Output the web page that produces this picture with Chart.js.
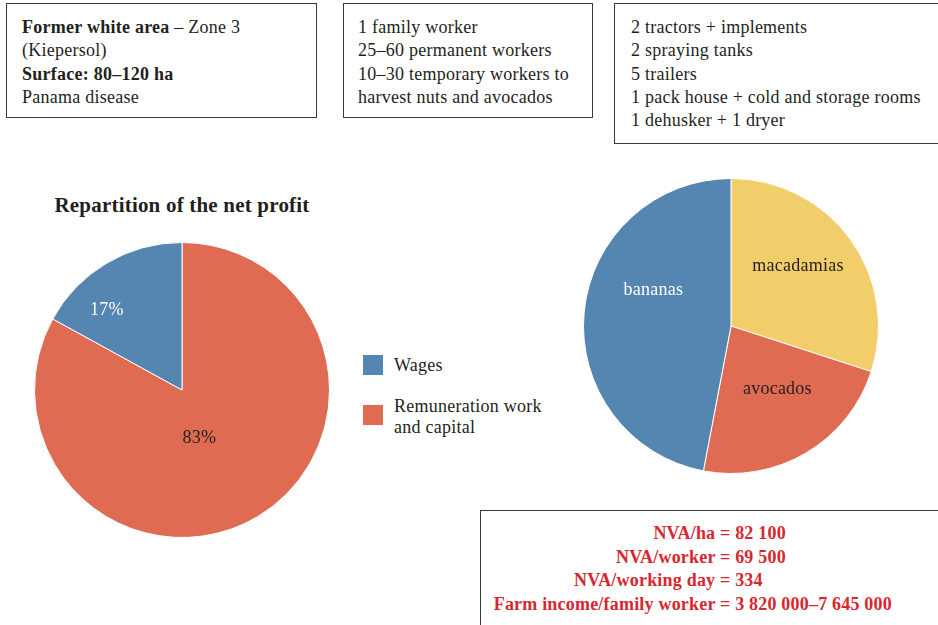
<!DOCTYPE html>
<html>
<head>
<meta charset="utf-8">
<script src="https://cdn.jsdelivr.net/npm/chart.js@4/dist/chart.umd.min.js"></script>
<style>
  html, body { margin: 0; padding: 0; background: #fff; overflow: hidden; }
  body { width: 938px; height: 625px; position: relative; font-family: "Liberation Serif", "DejaVu Serif", serif; color: #231f20; font-size: 18px; letter-spacing: 0.25px; }
  .box { position: absolute; border: 1px solid #3a3a3a; line-height: 23.3px; box-sizing: border-box; white-space: nowrap; }
  .box b { font-weight: bold; }
  #title { position: absolute; left: 0; width: 364px; top: 193px; text-align: center; font-weight: bold; font-size: 21px; letter-spacing: 0.2px; }
  canvas { position: absolute; }
  #legend { position: absolute; left: 363px; top: 355px; }
  .item { position: relative; height: 50px; }
  .sw { position: absolute; left: 0; top: 0; width: 20px; height: 20px; }
  .lt { position: absolute; left: 31px; width: 200px; line-height: 21px; white-space: nowrap; }
  #nva { position: absolute; left: 480px; top: 510px; width: 470px; height: 130px; border: 1px solid #3a3a3a; box-sizing: border-box; padding-top: 11px; color: #d8262f; font-weight: bold; line-height: 23.7px; letter-spacing: 0.2px; }
  #nva .row { display: flex; }
  #nva .l { width: 239px; flex: none; text-align: right; white-space: pre; }
  #nva .r { white-space: pre; }
</style>
</head>
<body>
<div class="box" style="left:6px;top:3px;width:311px;height:115px;padding:12px 0 0 15px;">
  <b>Former white area</b> – Zone 3<br>(Kiepersol)<br><b>Surface: 80–120 ha</b><br>Panama disease
</div>
<div class="box" style="left:343px;top:3px;width:250px;height:115px;padding:12px 0 0 14px;">
  1 family worker<br>25–60 permanent workers<br>10–30 temporary workers to<br>harvest nuts and avocados
</div>
<div class="box" style="left:614px;top:3px;width:340px;height:141px;padding:12px 0 0 16px;">
  2 tractors + implements<br>2 spraying tanks<br>5 trailers<br>1 pack house + cold and storage rooms<br>1 dehusker + 1 dryer
</div>

<div id="title">Repartition of the net profit</div>
<canvas id="profitChart" width="296" height="296" style="left:34px;top:242px;"></canvas>
<div id="legend"></div>
<canvas id="cropChart" width="296" height="296" style="left:583px;top:178px;"></canvas>

<div id="nva"></div>

<script>
// net profit split (%)
const profitLabels = ['Remuneration work and capital', 'Wages'];
const profitShares = [83, 17];
const profitColors = ['#de6b52', '#5586b1'];

// share of the farm by crop (%)
const cropLabels = ['macadamias', 'avocados', 'bananas'];
const cropShares = [30, 23, 47];
const cropColors = ['#f1ce6a', '#de6b52', '#5586b1'];

// indicator lines, split at the "=" sign
const nvaNames = ['NVA/ha', 'NVA/worker', 'NVA/working day', 'Farm income/family worker'];
const nvaValues = ['82 100', '69 500', '334', '3 820 000–7 645 000'];

// draws text inside slices; place = [fraction along slice, fraction of radius]
const sliceLabels = {
  id: 'sliceLabels',
  afterDatasetsDraw(chart, args, opts) {
    const ctx = chart.ctx;
    chart.getDatasetMeta(0).data.forEach((arc, i) => {
      const p = opts.place[i];
      const a = arc.startAngle + (arc.endAngle - arc.startAngle) * p[0];
      const r = arc.outerRadius * p[1];
      ctx.save();
      ctx.font = '18px "Liberation Serif", serif';
      ctx.fillStyle = opts.colors[i];
      ctx.textAlign = 'center';
      ctx.textBaseline = 'middle';
      ctx.fillText(opts.text[i], arc.x + Math.cos(a) * r, arc.y + Math.sin(a) * r);
      ctx.restore();
    });
  }
};

function pie(id, labels, values, colors, labelOpts) {
  return new Chart(document.getElementById(id), {
    type: 'pie',
    data: {
      labels: labels,
      datasets: [{ data: values, backgroundColor: colors, borderColor: '#ffffff', borderWidth: 1 }]
    },
    options: {
      responsive: false,
      animation: false,
      layout: { padding: 0 },
      plugins: {
        legend: { display: false },
        tooltip: { enabled: false },
        sliceLabels: labelOpts
      }
    },
    plugins: [sliceLabels]
  });
}

pie('profitChart', profitLabels, profitShares, profitColors, {
  text: profitShares.map(v => v + '%'),
  colors: ['#231f20', '#ffffff'],
  place: [[0.537, 0.35], [0.29, 0.74]]
});

pie('cropChart', cropLabels, cropShares, cropColors, {
  text: cropLabels,
  colors: ['#231f20', '#231f20', '#ffffff'],
  place: [[0.446, 0.61], [0.43, 0.53], [0.615, 0.58]]
});

// legend for the profit pie (Wages first)
const legend = document.getElementById('legend');
[1, 0].forEach(i => {
  const txt = i === 0 ? 'Remuneration work<br>and capital' : profitLabels[i];
  const top = i === 0 ? -9 : 0;
  legend.innerHTML += `<div class="item"><div class="sw" style="background:${profitColors[i]}"></div><div class="lt" style="top:${top}px">${txt}</div></div>`;
});

const nva = document.getElementById('nva');
nvaNames.forEach((n, i) => {
  nva.innerHTML += `<div class="row"><span class="l">${n} </span><span class="r">= ${nvaValues[i]}</span></div>`;
});
</script>
</body>
</html>
